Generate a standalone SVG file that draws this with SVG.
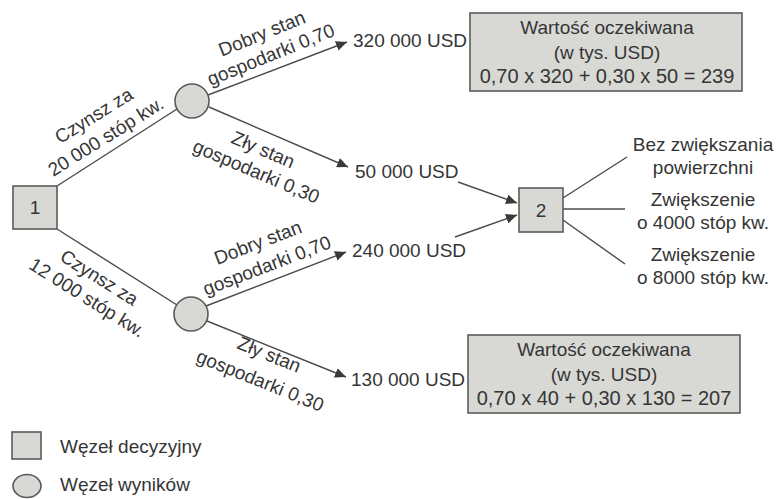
<svg xmlns="http://www.w3.org/2000/svg" width="777" height="499" viewBox="0 0 777 499">
<defs>
<style>
.t{font-family:"Liberation Sans",Arial,sans-serif;font-size:19px;fill:#353535}
.m{text-anchor:middle}
.e{font-size:20px}
.n{fill:#d8d9d5;stroke:#5a5a5a;stroke-width:1.6}
.c{stroke:#4a4a4a;stroke-width:1.4;fill:none}
</style>
<marker id="ah" markerUnits="userSpaceOnUse" markerWidth="12" markerHeight="10" refX="11" refY="5" orient="auto">
<path d="M0,0 L11,5 L0,10 Z" fill="#3a3a3a"/>
</marker>
</defs>
<rect width="777" height="499" fill="#ffffff"/>
<g id="connectors">
<line class="c" x1="57" y1="186" x2="177" y2="109"/>
<line class="c" x1="57" y1="229" x2="177" y2="305"/>
<line class="c" x1="208" y1="95" x2="347" y2="42" marker-end="url(#ah)"/>
<line class="c" x1="209" y1="107" x2="348" y2="167" marker-end="url(#ah)"/>
<line class="c" x1="206" y1="306" x2="346" y2="252" marker-end="url(#ah)"/>
<line class="c" x1="207" y1="321" x2="346" y2="377" marker-end="url(#ah)"/>
<line class="c" x1="458" y1="182" x2="517" y2="203" marker-end="url(#ah)"/>
<line class="c" x1="455" y1="237" x2="517" y2="215" marker-end="url(#ah)"/>
<line class="c" x1="563" y1="198" x2="627" y2="157"/>
<line class="c" x1="563" y1="209" x2="625" y2="209"/>
<line class="c" x1="563" y1="220" x2="625" y2="264"/>
</g>
<g id="edge-labels" class="t m">
<text transform="translate(94,116) rotate(-32)" y="6">Czynsz za</text>
<text transform="translate(106,137) rotate(-32)" y="6">20 000 stóp kw.</text>
<text transform="translate(99,278) rotate(32)" y="6">Czynsz za</text>
<text transform="translate(87,298) rotate(32)" y="6">12 000 stóp kw.</text>
<text transform="translate(262,34) rotate(-22)" y="6">Dobry stan</text>
<text transform="translate(271,55) rotate(-22)" y="6">gospodarki 0,70</text>
<text transform="translate(263,150) rotate(23)" y="6">Zły stan</text>
<text transform="translate(256,172) rotate(23)" y="6">gospodarki 0,30</text>
<text transform="translate(258,243) rotate(-21)" y="6">Dobry stan</text>
<text transform="translate(267,266) rotate(-21)" y="6">gospodarki 0,70</text>
<text transform="translate(269,355) rotate(22)" y="6">Zły stan</text>
<text transform="translate(260,381) rotate(22)" y="6">gospodarki 0,30</text>
</g>
<g id="node1"><rect class="n" x="13" y="186" width="44" height="43"/><text class="t m" x="35" y="214">1</text></g>
<g id="chance1"><circle class="n" cx="192" cy="101" r="17"/></g>
<g id="chance2"><circle class="n" cx="191" cy="314" r="17"/></g>
<g id="node2"><rect class="n" x="519" y="188" width="44" height="44"/><text class="t m" x="541" y="217">2</text></g>
<g id="out1"><text class="t" x="353" y="47">320 000 USD</text></g>
<g id="out2"><text class="t" x="355" y="178">50 000 USD</text></g>
<g id="out3"><text class="t" x="352" y="257">240 000 USD</text></g>
<g id="out4"><text class="t" x="351" y="386">130 000 USD</text></g>
<g id="ev1"><rect class="n" x="470" y="13" width="272" height="78"/>
<text class="t m" x="607" y="34">Wartość oczekiwana</text>
<text class="t m" x="607" y="59">(w tys. USD)</text>
<text class="t m e" x="607" y="83">0,70 x 320 + 0,30 x 50 = 239</text></g>
<g id="ev2"><rect class="n" x="468" y="335" width="272" height="78"/>
<text class="t m" x="604" y="356">Wartość oczekiwana</text>
<text class="t m" x="604" y="381">(w tys. USD)</text>
<text class="t m e" x="604" y="405">0,70 x 40 + 0,30 x 130 = 207</text></g>
<g id="opt1"><text class="t m" x="703" y="151">Bez zwiększania</text><text class="t m" x="703" y="174">powierzchni</text></g>
<g id="opt2"><text class="t m" x="703" y="206">Zwiększenie</text><text class="t m" x="703" y="229">o 4000 stóp kw.</text></g>
<g id="opt3"><text class="t m" x="703" y="261">Zwiększenie</text><text class="t m" x="703" y="284">o 8000 stóp kw.</text></g>
<g id="legend">
<rect class="n" x="12" y="432" width="29" height="27" stroke-width="1.2"/>
<text class="t" x="60" y="453">Węzeł decyzyjny</text>
<ellipse class="n" cx="27" cy="486" rx="14" ry="11.5" stroke-width="1.2"/>
<text class="t" x="60" y="491">Węzeł wyników</text>
</g>
</svg>
